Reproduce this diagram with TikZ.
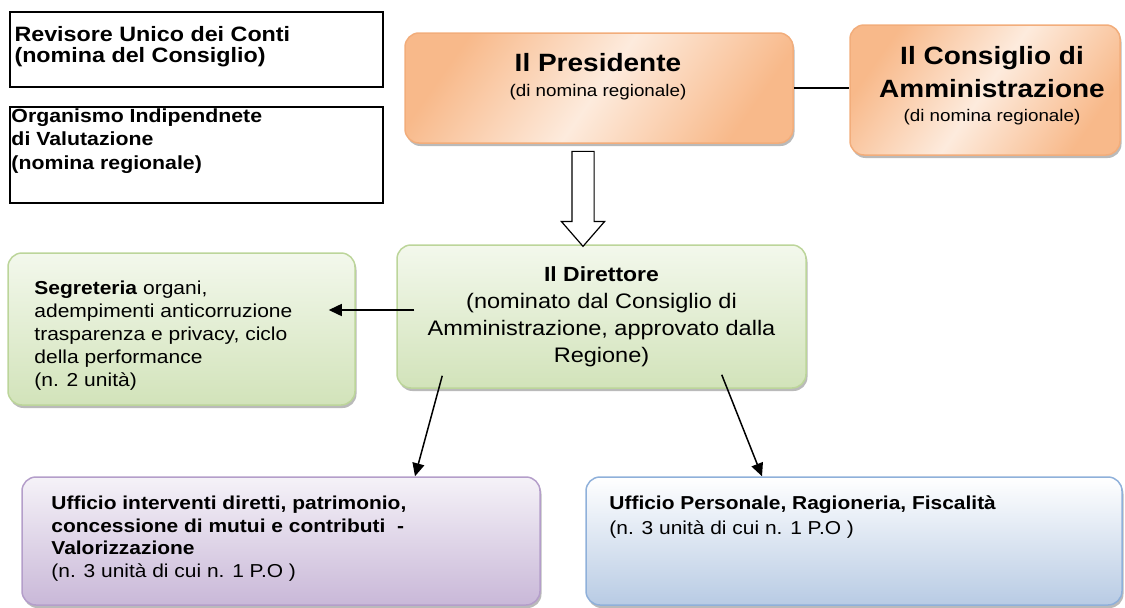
\documentclass[tikz,border=0pt]{standalone}
\usepackage{fontspec}
\setmainfont{Liberation Sans}[FakeStretch=1.12]
\usetikzlibrary{arrows.meta, shadows, shapes.arrows, positioning}

\definecolor{orangeDark}{HTML}{F8B98A}
\definecolor{orangeLight}{HTML}{FDEBDD}
\definecolor{orangeLine}{HTML}{F2AD7B}
\definecolor{greenTop}{HTML}{F3F8EC}
\definecolor{greenBot}{HTML}{D2E3BA}
\definecolor{greenLine}{HTML}{BCD59A}
\definecolor{purpleTop}{HTML}{F5F2F8}
\definecolor{purpleBot}{HTML}{C9B8D8}
\definecolor{purpleLine}{HTML}{B49ECA}
\definecolor{blueTop}{HTML}{FFFFFF}
\definecolor{blueBot}{HTML}{B8CBE4}
\definecolor{blueLine}{HTML}{8FB0DA}

\begin{document}
\begin{tikzpicture}
[x=1pt, y=-1pt, inner sep=0pt,
box/.style={rounded corners=14pt, line width=1.5pt,
  drop shadow={shadow xshift=1.5pt, shadow yshift=-3pt, fill=black!45, opacity=0.6}},
orangebox/.style={box, draw=orangeLine, top color=orangeDark, bottom color=orangeDark,
  middle color=orangeLight, shading angle=55},
greenbox/.style={box, draw=greenLine, top color=greenTop, bottom color=greenBot},
purplebox/.style={box, draw=purpleLine, top color=purpleTop, bottom color=purpleBot},
bluebox/.style={box, draw=blueLine, top color=blueTop, bottom color=blueBot},
plainbox/.style={draw, line width=1.4pt},
conn/.style={line width=1.5pt, -{Triangle[length=13pt, width=12pt]}},
blockarrow/.style={draw, fill=white, line width=1.2pt, single arrow, rotate=-90,
  inner xsep=0pt, inner ysep=10.5pt, minimum height=95pt, minimum width=42pt,
  single arrow head extend=10.5pt, single arrow tip angle=82}
]

\useasboundingbox (0,0) rectangle (1125,608);

% boxes
\node[plainbox, minimum width=373pt, minimum height=75pt] (rev) at (196.5,49.5) {};
\node[plainbox, minimum width=373pt, minimum height=96pt] (org) at (196.5,155) {};
\node[orangebox, minimum width=388pt, minimum height=110pt] (pres) at (599,88) {};
\node[orangebox, minimum width=270pt, minimum height=130pt] (cons) at (985,90) {};
\node[greenbox, minimum width=409pt, minimum height=143pt] (dir) at (601.5,316.5) {};
\node[greenbox, minimum width=347pt, minimum height=152pt] (seg) at (181.5,329) {};
\node[purplebox, minimum width=518pt, minimum height=128pt] (uffA) at (281,541) {};
\node[bluebox, minimum width=536pt, minimum height=128pt] (uffB) at (854,541) {};

% box texts
\node[below right=15pt and 5pt of rev.north west, align=left,
  font=\fontsize{20.8}{21}\selectfont\bfseries] (revT)
  {Revisore Unico dei Conti\\(nomina del Consiglio)};
\node[below right=2pt and 2pt of org.north west, align=left,
  font=\fontsize{19}{23.5}\selectfont\bfseries] (orgT)
  {Organismo Indipendnete\\di Valutazione\\(nomina regionale)};
\node[below=20.5pt of pres.north, xshift=-1pt, align=center,
  font=\fontsize{16.8}{25}\selectfont] (presT)
  {{\fontsize{25}{25}\selectfont\bfseries Il Presidente}\\(di nomina regionale)};
\node[below=21.5pt of cons.north, xshift=7pt, align=center,
  font=\fontsize{16.8}{24}\selectfont] (consT)
  {{\fontsize{25}{24}\selectfont\bfseries Il Consiglio di}\\[9pt]
   {\fontsize{25}{24}\selectfont\bfseries Amministrazione}\\(di nomina regionale)};
\node[below=22pt of dir.north, align=center,
  font=\fontsize{21}{27}\selectfont] (dirT)
  {{\fontsize{20.5}{27}\selectfont\bfseries Il Direttore}\\(nominato dal Consiglio di\\
   Amministrazione, approvato dalla\\Regione)};
\node[below right=28pt and 27pt of seg.north west, align=left,
  font=\fontsize{18.75}{23}\selectfont] (segT)
  {\textbf{Segreteria} organi,\\adempimenti anticorruzione\\
   trasparenza e privacy, ciclo\\della performance\\(n. 2 unità)};
\node[below right=19.5pt and 30pt of uffA.north west, align=left,
  font=\fontsize{18.7}{22.7}\selectfont] (uffAT)
  {\textbf{Ufficio interventi diretti, patrimonio,}\\
   \textbf{concessione di mutui e contributi ~-}\\
   \textbf{Valorizzazione}\\(n. 3 unità di cui n. 1 P.O )};
\node[below right=19.5pt and 24pt of uffB.north west, align=left,
  font=\fontsize{18.7}{24.5}\selectfont] (uffBT)
  {\textbf{Ufficio Personale, Ragioneria, Fiscalità}\\(n. 3 unità di cui n. 1 P.O )};

% connectors
\draw[line width=1.5pt] (pres.east) -- (pres.east -| cons.west);
\node[blockarrow, anchor=tail] (presArrow) at ([xshift=-16pt, yshift=-7pt]pres.south) {};
\draw[conn] ([xshift=18pt, yshift=6.5pt]dir.west) -- ([xshift=-27pt, yshift=19pt]seg.east);
\draw[conn] ([xshift=46pt, yshift=13pt]dir.south west) -- ([xshift=134pt]uffA.north);
\draw[conn] ([xshift=-85pt, yshift=14pt]dir.south east) -- ([xshift=-92pt]uffB.north);

\end{tikzpicture}
\end{document}
